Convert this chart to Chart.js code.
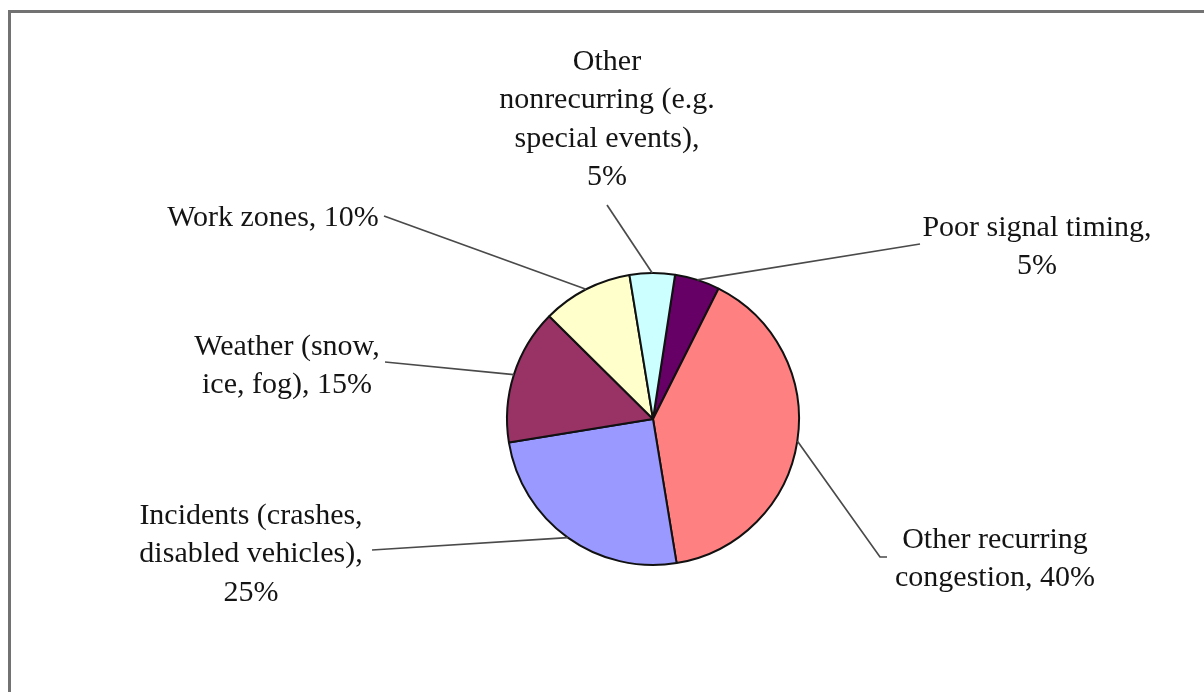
<!DOCTYPE html>
<html>
<head>
<meta charset="utf-8">
<script src="https://cdn.jsdelivr.net/npm/chart.js@4.4.0/dist/chart.umd.min.js"></script>
<style>
  body { margin: 0; background: #fff; }
  #wrap { position: relative; width: 1204px; height: 692px; overflow: hidden; }
  #frame { position: absolute; left: 8px; top: 10px; width: 1220px; height: 720px; border: 3px solid #727272; box-sizing: border-box; }
  #myChart { position: absolute; left: 0; top: 0; }
</style>
</head>
<body>
<div id="wrap">
  <div id="frame"></div>
  <canvas id="myChart" width="1204" height="692"></canvas>
</div>
<script>
// slices, clockwise from the top
const categories = [
  'Poor signal timing',
  'Other recurring congestion',
  'Incidents (crashes, disabled vehicles)',
  'Weather (snow, ice, fog)',
  'Work zones',
  'Other nonrecurring (e.g. special events)'
];
const shares = [5, 40, 25, 15, 10, 5];
const colors = ['#660066', '#FF8080', '#9999FF', '#993366', '#FFFFCC', '#CCFFFF'];

// where each callout text sits and how its leader bends
const spots = [
  { x: 1037, y: 228, wrap: 240, path: [[920, 244]] },
  { x: 995, y: 540, wrap: 215, path: [[880, 557], [887, 557]] },
  { x: 251, y: 516, wrap: 238, path: [[372, 550]] },
  { x: 287, y: 347, wrap: 200, path: [[385, 362]] },
  { x: 273, y: 218, wrap: 240, path: [[384, 216]] },
  { x: 607, y: 62, wrap: 228, path: [[607, 205]] }
];

function wrapText(ctx, text, maxW) {
  const words = text.split(' ');
  const lines = [];
  let cur = '';
  words.forEach(w => {
    const test = cur ? cur + ' ' + w : w;
    if (cur && ctx.measureText(test).width > maxW) {
      lines.push(cur);
      cur = w;
    } else {
      cur = test;
    }
  });
  if (cur) lines.push(cur);
  return lines;
}

const calloutPlugin = {
  id: 'callouts',
  afterDraw(chart, args, opts) {
    const ctx = chart.ctx;
    const arcs = chart.getDatasetMeta(0).data;
    ctx.save();
    ctx.font = opts.font;
    arcs.forEach((arc, i) => {
      const spot = opts.spots[i];
      const mid = (arc.startAngle + arc.endAngle) / 2;
      const sx = arc.x + Math.cos(mid) * arc.outerRadius;
      const sy = arc.y + Math.sin(mid) * arc.outerRadius;
      ctx.strokeStyle = '#4a4a4a';
      ctx.lineWidth = 1.7;
      ctx.beginPath();
      ctx.moveTo(sx, sy);
      spot.path.forEach(p => ctx.lineTo(p[0], p[1]));
      ctx.stroke();

      const text = chart.data.labels[i] + ', ' + chart.data.datasets[0].data[i] + '%';
      const lines = wrapText(ctx, text, spot.wrap);
      ctx.fillStyle = '#141414';
      ctx.textAlign = 'center';
      ctx.textBaseline = 'middle';
      lines.forEach((l, k) => ctx.fillText(l, spot.x, spot.y + k * opts.lineHeight));
    });
    ctx.restore();
  }
};

const myChart = new Chart(document.getElementById('myChart'), {
  type: 'pie',
  data: {
    labels: categories,
    datasets: [{
      data: shares,
      backgroundColor: colors,
      borderColor: '#111',
      borderWidth: 2
    }]
  },
  options: {
    responsive: false,
    animation: false,
    rotation: 8.7,
    radius: 146,
    layout: { padding: { left: 507, top: 273, right: 405, bottom: 127 } },
    plugins: {
      legend: { display: false },
      tooltip: { enabled: false },
      callouts: { spots: spots, font: '30px "Liberation Serif"', lineHeight: 38.5 }
    }
  },
  plugins: [calloutPlugin]
});
</script>
</body>
</html>
